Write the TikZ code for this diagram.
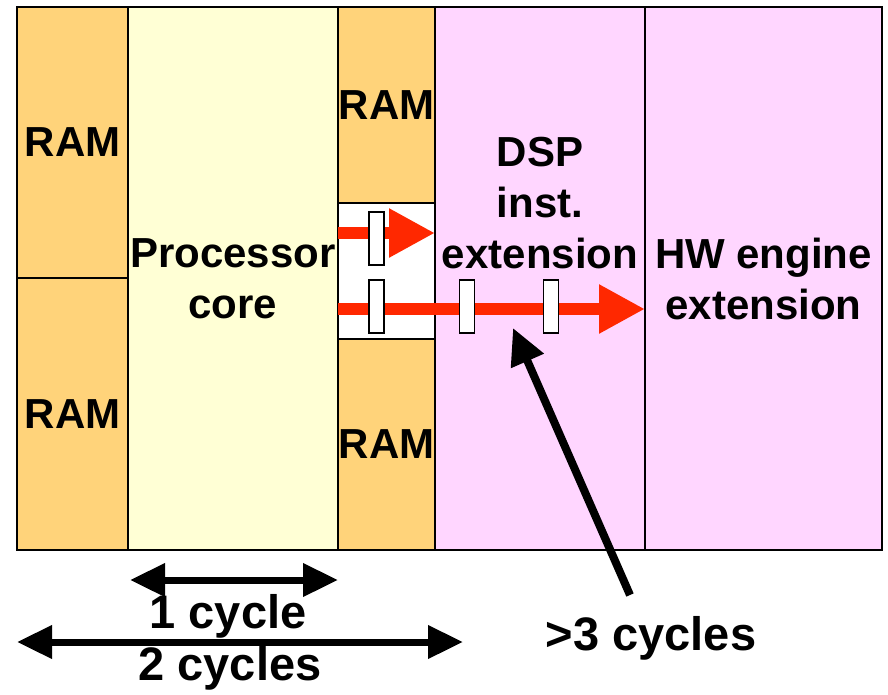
\documentclass[tikz,border=0pt]{standalone}
\usepackage{fontspec}
\setmainfont{Liberation Sans}
\usetikzlibrary{arrows.meta}
\definecolor{ramc}{RGB}{255,211,122}
\definecolor{corec}{RGB}{255,255,213}
\definecolor{pinkc}{RGB}{255,214,255}
\definecolor{redc}{RGB}{255,40,0}
\tikzset{
  box/.style={draw=black, line width=2pt, rectangle, inner sep=0pt, outer sep=0pt, anchor=north west, align=center,
    font=\fontsize{42}{51}\selectfont\bfseries},
  lbl/.style={inner sep=0pt, align=center, font=\fontsize{42}{51}\selectfont\bfseries},
  blbl/.style={inner sep=0pt, align=center, font=\fontsize{47}{51}\selectfont\bfseries},
  reg/.style={draw=black, line width=1.5pt, fill=white, rectangle, inner sep=0pt, minimum width=15pt, minimum height=53pt},
  redarr/.style={draw=redc, line width=12pt, -{Triangle[length=46pt,width=46pt]}},
  blkarr/.style={draw=black, line width=8pt, -{Triangle[length=36pt,width=34pt]}},
  dblarr/.style={draw=black, line width=7pt, {Triangle[length=35pt,width=32pt]}-{Triangle[length=35pt,width=32pt]}}
}
\begin{document}
\begin{tikzpicture}[x=1pt,y=-1pt]
\useasboundingbox (0,0) rectangle (888,694);
% boxes
\node[box, fill=ramc, minimum width=111pt, minimum height=271pt] (ram1) at (17,7) {RAM};
\node[box, fill=ramc, minimum width=111pt, minimum height=272pt] (ram2) at (17,278) {RAM};
\node[box, fill=corec, minimum width=210pt, minimum height=543pt] (core) at (128,7) {Processor\\core};
\node[box, fill=ramc, minimum width=97pt, minimum height=196pt] (ram3) at (338,7) {RAM};
\node[box, fill=white, minimum width=97pt, minimum height=136pt] (wb) at (338,203) {};
\node[box, fill=ramc, minimum width=97pt, minimum height=211pt] (ram4) at (338,339) {RAM};
\node[box, fill=pinkc, minimum width=210pt, minimum height=543pt] (dsp) at (435,7) {};
\node[box, fill=pinkc, minimum width=237pt, minimum height=543pt] (hw) at (645,7) {HW engine\\extension};
\node[lbl] (dsptxt) at (540,203) {DSP\\inst.\\extension};
% red arrows
\coordinate (r1) at (338,233);
\coordinate (r2) at (338,309);
\draw[redarr] (r1) -- (dsp.west |- r1);
\draw[redarr] (r2) -- (hw.west |- r2);
% registers
\node[reg] (g1) at (376.5,238.5) {};
\node[reg] (g2) at (376.5,306.5) {};
\node[reg] (g3) at (467,306.5) {};
\node[reg] (g4) at (551,306.5) {};
% >3 cycles
\node[blbl] (t3) at (651,638) {>3 cycles};
\coordinate (pa) at (630,595);
\coordinate (pb) at (513,328);
\draw[blkarr] (pa) -- (pb);
% bottom arrows
\coordinate (c1a) at (130,580);
\coordinate (c1b) at (338,580);
\draw[dblarr] (c1a) -- (c1b);
\node[blbl] (t1) at (228,616) {1 cycle};
\coordinate (c2a) at (17,642);
\coordinate (c2b) at (463,642);
\draw[dblarr] (c2a) -- (c2b);
\node[blbl] (t2) at (230,668) {2 cycles};
\end{tikzpicture}
\end{document}
